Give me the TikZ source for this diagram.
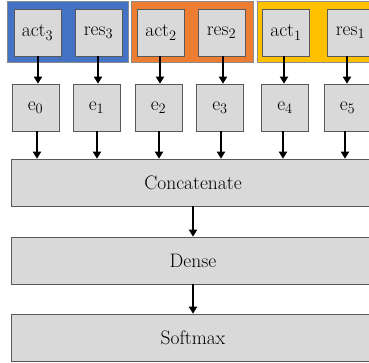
\documentclass[tikz,border=0pt]{standalone}
\usetikzlibrary{arrows.meta}
\definecolor{grpblue}{HTML}{4472C4}
\definecolor{grporange}{HTML}{ED7D31}
\definecolor{grpyellow}{HTML}{FFC000}
\definecolor{boxfill}{HTML}{D9D9D9}
\definecolor{boxline}{HTML}{595959}
\begin{document}
\begin{tikzpicture}[x=1pt,y=-1pt,
  font=\fontsize{19.5}{22}\selectfont,
  grp/.style={draw=boxline!70,line width=0.6pt,anchor=north west,inner sep=0pt},
  sbox/.style={draw=boxline,fill=boxfill,line width=0.6pt,minimum width=47pt,minimum height=47pt,inner sep=0pt},
  wbox/.style={draw=boxline,fill=boxfill,line width=0.6pt,minimum width=364pt,minimum height=47pt,inner sep=0pt},
  arr/.style={line width=1.7pt,-{Triangle[length=7pt,width=8pt]}}]
\useasboundingbox (0,0) rectangle (369,362);
% groups
\node[grp,fill=grpblue,minimum width=121pt,minimum height=61pt] (gb) at (7,1) {};
\node[grp,fill=grporange,minimum width=122pt,minimum height=61pt] (go) at (131,1) {};
\node[grp,fill=grpyellow,minimum width=130pt,minimum height=61pt] (gy) at (257,1) {};
% top boxes
\node[sbox] (a3) at (37.5,32.5) {act$_3$};
\node[sbox] (r3) at (98.5,32.5) {res$_3$};
\node[sbox] (a2) at (161,32.5) {act$_2$};
\node[sbox] (r2) at (221.5,32.5) {res$_2$};
\node[sbox] (a1) at (286,32.5) {act$_1$};
\node[sbox] (r1) at (350.5,32.5) {res$_1$};
% e boxes
\node[sbox] (e0) at (35.5,107.5) {e$_0$};
\node[sbox] (e1) at (96.5,107.5) {e$_1$};
\node[sbox] (e2) at (158.5,107.5) {e$_2$};
\node[sbox] (e3) at (220,107.5) {e$_3$};
\node[sbox] (e4) at (285,107.5) {e$_4$};
\node[sbox] (e5) at (347.5,107.5) {e$_5$};
% wide boxes
\node[wbox] (cat) at (193,182.5) {Concatenate};
\node[wbox] (den) at (193,260.5) {Dense};
\node[wbox] (sm) at (193,337.5) {Softmax};
% arrows top -> e
\foreach \t/\e/\x in {a3/e0/38,r3/e1/98,a2/e2/160,r2/e3/223,a1/e4/284,r1/e5/347}{
  \draw[arr] (\x,0 |- \t.south) -- (\x,0 |- \e.north);
}
\foreach \e/\x in {e0/37,e1/97,e2/159,e3/221,e4/283,e5/345}{
  \draw[arr] (\x,0 |- \e.south) -- (\x,0 |- cat.north);
}
\draw[arr] (cat.south) -- (den.north);
\draw[arr] (den.south) -- (sm.north);
\end{tikzpicture}
\end{document}
